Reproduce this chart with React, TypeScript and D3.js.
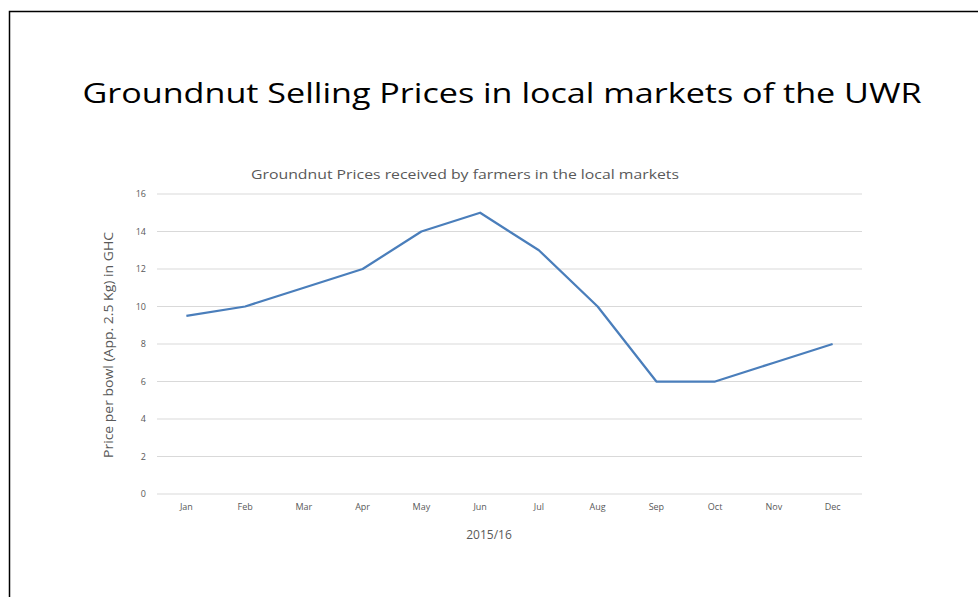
import React from "react";
import * as d3 from "d3";

const months = ["Jan", "Feb", "Mar", "Apr", "May", "Jun", "Jul", "Aug", "Sep", "Oct", "Nov", "Dec"];
const prices = [9.5, 10, 11, 12, 14, 15, 13, 10, 6, 6, 7, 8];
const yTicks = [0, 2, 4, 6, 8, 10, 12, 14, 16];

const title = "Groundnut Selling Prices in local markets of the UWR";
const subtitle = "Groundnut Prices received by farmers in the local markets";
const yLabel = "Price per bowl (App. 2.5 Kg) in GHC";
const xLabel = "2015/16";

export default function App() {
  const W = 978, H = 597;
  const left = 157, right = 862, top = 194, bottom = 494;
  const x = d3.scaleBand<string>().domain(months).range([left, right]);
  const y = d3.scaleLinear().domain([0, 16]).range([bottom, top]);
  const line = d3.line<number>()
    .x((_, i) => (x(months[i]) as number) + x.bandwidth() / 2)
    .y((d) => y(d));
  const font = "'Open Sans', 'Noto Sans', sans-serif";
  const gray = "#595959";
  return (
    <svg width={W} height={H} style={{ position: "absolute", left: 0, top: 0 }} fontFamily={font}>
      <rect x={0} y={0} width={W} height={H} fill="#fff" />
      <rect x={9.5} y={11.5} width={W + 10} height={H + 10} fill="none" stroke="#000" strokeWidth={1.5} />
      <text x={502} y={103} textAnchor="middle" fontSize={27} fill="#000" textLength={839} lengthAdjust="spacingAndGlyphs">{title}</text>
      <text x={465} y={179} textAnchor="middle" fontSize={12.5} fill={gray} textLength={428} lengthAdjust="spacingAndGlyphs">{subtitle}</text>
      {yTicks.map((t) => (
        <g key={t}>
          <line x1={left} x2={right} y1={y(t)} y2={y(t)} stroke="#d9d9d9" strokeWidth={1} />
          <text x={146} y={y(t)} dy="0.35em" textAnchor="end" fontSize={9} fill={gray}>{t}</text>
        </g>
      ))}
      {months.map((m) => (
        <text key={m} x={(x(m) as number) + x.bandwidth() / 2} y={510} textAnchor="middle" fontSize={9} fill={gray}>{m}</text>
      ))}
      <text x={489} y={539} textAnchor="middle" fontSize={12} fill={gray}>{xLabel}</text>
      <text transform={`translate(113,345) rotate(-90)`} textAnchor="middle" fontSize={13} fill={gray} textLength={226} lengthAdjust="spacingAndGlyphs">{yLabel}</text>
      <path d={line(prices) ?? ""} fill="none" stroke="#4a7ebb" strokeWidth={2.25} strokeLinejoin="round" />
    </svg>
  );
}
